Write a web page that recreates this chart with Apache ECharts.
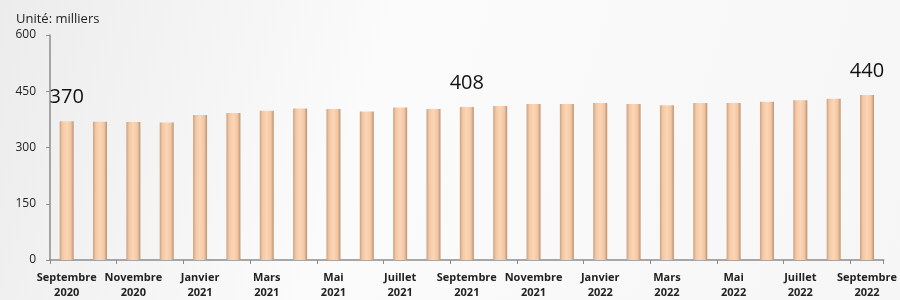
<!DOCTYPE html>
<html lang="fr">
<head>
    <meta charset="UTF-8" />
    <title>Effectifs mensuels</title>
    <script src="https://cdn.jsdelivr.net/npm/echarts@6/dist/echarts.min.js"></script>
    <style>
        html, body { margin: 0; padding: 0; }
        #main { width: 900px; height: 300px; }
    </style>
</head>
<body>
<div id="main"></div>
<script>
    // données (milliers)
    var months = ['Septembre\n2020', 'Octobre\n2020', 'Novembre\n2020', 'Décembre\n2020',
                  'Janvier\n2021', 'Février\n2021', 'Mars\n2021', 'Avril\n2021', 'Mai\n2021',
                  'Juin\n2021', 'Juillet\n2021', 'Août\n2021', 'Septembre\n2021', 'Octobre\n2021',
                  'Novembre\n2021', 'Décembre\n2021', 'Janvier\n2022', 'Février\n2022', 'Mars\n2022',
                  'Avril\n2022', 'Mai\n2022', 'Juin\n2022', 'Juillet\n2022', 'Août\n2022',
                  'Septembre\n2022'];
    var values = [370, 369, 368, 367, 387, 392, 398, 404, 403, 396, 407, 403, 408,
                  411, 416, 416, 419, 416, 413, 419, 419, 422, 426, 430, 440];
    var labelled = [0, 12, 24];   // barres avec étiquette
    var yTicks = [0, 150, 300, 450, 600];

    var barColor = new echarts.graphic.LinearGradient(0, 0, 1, 0, [
        { offset: 0, color: '#c9a283' },
        { offset: 0.2, color: '#f4c8a4' },
        { offset: 0.5, color: '#fbd6b7' },
        { offset: 0.8, color: '#f3c6a1' },
        { offset: 1, color: '#b99172' }
    ]);

    var chart = echarts.init(document.getElementById('main'));
    var option = {
        backgroundColor: new echarts.graphic.LinearGradient(0, 0, 1, 1, [
            { offset: 0, color: '#ececec' },
            { offset: 0.4, color: '#fbfbfb' },
            { offset: 1, color: '#f6f6f6' }
        ]),
        animation: false,
        title: {
            text: 'Unité: milliers',
            left: 11,
            top: 8,
            textStyle: { fontFamily: 'Open Sans', fontSize: 13, fontWeight: 'normal', color: '#222' }
        },
        grid: { left: 50, right: 15, top: 35, bottom: 39 },
        xAxis: {
            type: 'category',
            data: months,
            axisLine: { lineStyle: { color: '#8c8c8c', width: 1.5 } },
            axisTick: { show: true, length: 4, lineStyle: { color: '#8c8c8c' } },
            axisLabel: {
                interval: 1,
                margin: 10,
                fontFamily: 'Open Sans',
                fontSize: 11,
                fontWeight: 'bold',
                lineHeight: 15,
                color: '#222'
            }
        },
        yAxis: {
            type: 'value',
            min: yTicks[0],
            max: yTicks[yTicks.length - 1],
            interval: 150,
            splitLine: { show: false },
            axisLine: { show: true, lineStyle: { color: '#8c8c8c', width: 1.5 } },
            axisTick: { show: true, length: 4, lineStyle: { color: '#8c8c8c' } },
            axisLabel: { margin: 14, fontFamily: 'Open Sans', fontSize: 12, color: '#222' }
        },
        series: [{
            type: 'bar',
            barWidth: 14,
            data: values.map(function (v, i) {
                return {
                    value: v,
                    label: {
                        show: labelled.indexOf(i) >= 0,
                        position: 'top',
                        distance: 14,
                        fontFamily: 'Open Sans',
                        fontSize: 20,
                        color: '#111'
                    }
                };
            }),
            itemStyle: { color: barColor }
        }]
    };
    chart.setOption(option);
</script>
</body>
</html>
